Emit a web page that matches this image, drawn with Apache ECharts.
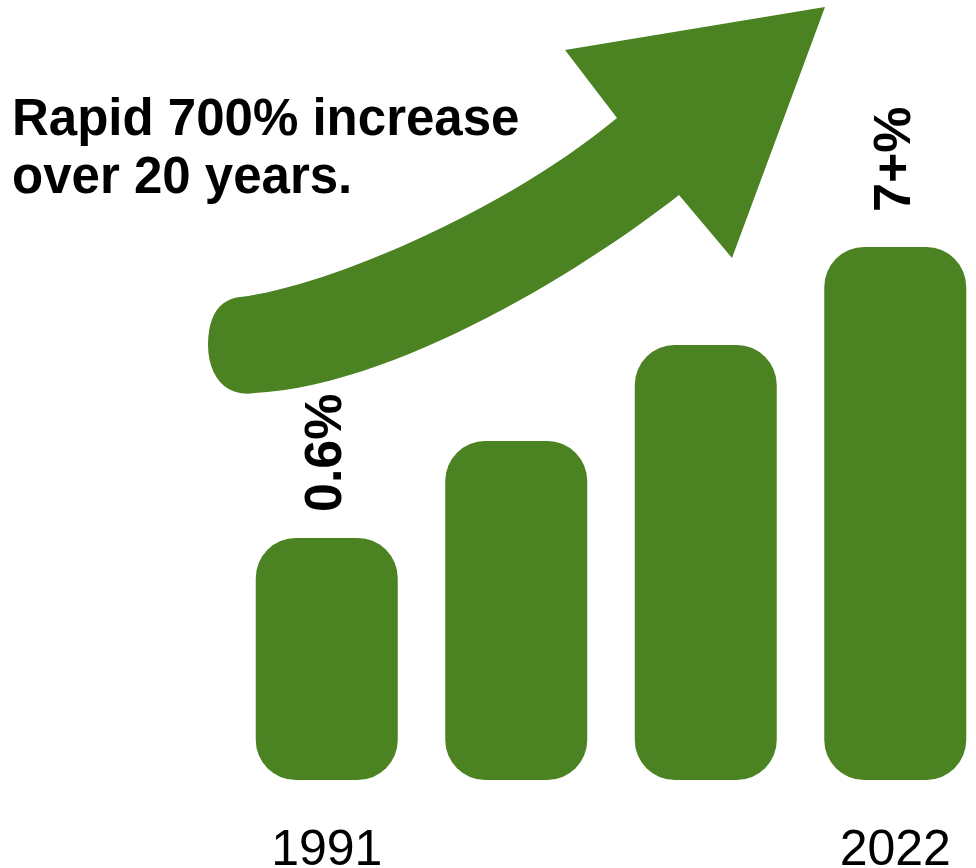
<!DOCTYPE html>
<html>
<head>
<meta charset="utf-8">
<title>Rapid increase</title>
<script src="https://cdn.jsdelivr.net/npm/echarts@6/dist/echarts.min.js"></script>
<style>
  html, body { margin: 0; padding: 0; background: #fff; }
  #chart { width: 976px; height: 868px; }
</style>
</head>
<body>
<div id="chart"></div>
<script>
// years on the axis (middle bars carry no label)
const categories = ['1991', '', '', '2022']
// bar heights (icon units)
const barValues = [2.42, 3.39, 4.35, 5.33]
// rotated labels above the first and last bar
const barLabels = ['0.6%', '', '', '7+%']
const labelGaps = [26, 0, 0, 35]

const green = '#4b8222'
const font = '"Liberation Sans", Arial, sans-serif'

const chart = echarts.init(document.getElementById('chart'))

const seriesData = barValues.map((v, i) => {
  const item = { value: v }
  if (barLabels[i]) {
    item.label = {
      show: true,
      formatter: barLabels[i],
      position: 'top',
      distance: labelGaps[i],
      rotate: 90,
      align: 'left',
      verticalAlign: 'middle',
      fontSize: 52,
      fontWeight: 'bold',
      fontFamily: font,
      color: '#000'
    }
  }
  return item
})

// curved arrow outline (decoration): straight head + bezier shaft + round tail
function cubic(p0, p1, p2, p3, n) {
  const pts = []
  for (let k = 1; k <= n; k++) {
    const t = k / n, u = 1 - t
    pts.push([
      u * u * u * p0[0] + 3 * u * u * t * p1[0] + 3 * u * t * t * p2[0] + t * t * t * p3[0],
      u * u * u * p0[1] + 3 * u * u * t * p1[1] + 3 * u * t * t * p2[1] + t * t * t * p3[1]
    ])
  }
  return pts
}
const arrowPoints = [[617, 118], [565, 50], [825, 7], [732, 258], [679, 195]]
  .concat(cubic([679, 195], [590, 265], [400, 385], [255, 393], 30))
  .concat(cubic([255, 393], [225, 398], [208, 375], [208, 345], 12))
  .concat(cubic([208, 345], [208, 315], [220, 299], [240, 297], 12))
  .concat(cubic([240, 297], [320, 288], [500, 215], [617, 118], 30))

const option = {
  animation: false,
  backgroundColor: '#fff',
  title: {
    text: 'Rapid 700% increase\nover 20 years.',
    left: 12,
    top: 92,
    padding: 0,
    textStyle: {
      fontSize: 51,
      fontWeight: 'bold',
      lineHeight: 58,
      fontFamily: font,
      color: '#000'
    }
  },
  grid: {
    left: 232,
    right: -14,
    top: 0,
    bottom: 88,
    containLabel: false,
    outerBoundsMode: 'none'
  },
  xAxis: {
    type: 'category',
    data: categories,
    axisLine: { show: false },
    axisTick: { show: false },
    axisLabel: {
      margin: 46,
      fontSize: 50,
      fontFamily: font,
      color: '#000',
      interval: 0
    }
  },
  yAxis: {
    type: 'value',
    min: 0,
    max: 7.8,
    show: false,
    splitLine: { show: false }
  },
  graphic: [{
    type: 'polygon',
    shape: { points: arrowPoints },
    style: { fill: green },
    z: 1
  }],
  series: [{
    type: 'bar',
    data: seriesData,
    barWidth: 142,
    itemStyle: {
      color: green,
      borderRadius: 40
    },
    label: { show: false }
  }]
}

chart.setOption(option)
</script>
</body>
</html>
